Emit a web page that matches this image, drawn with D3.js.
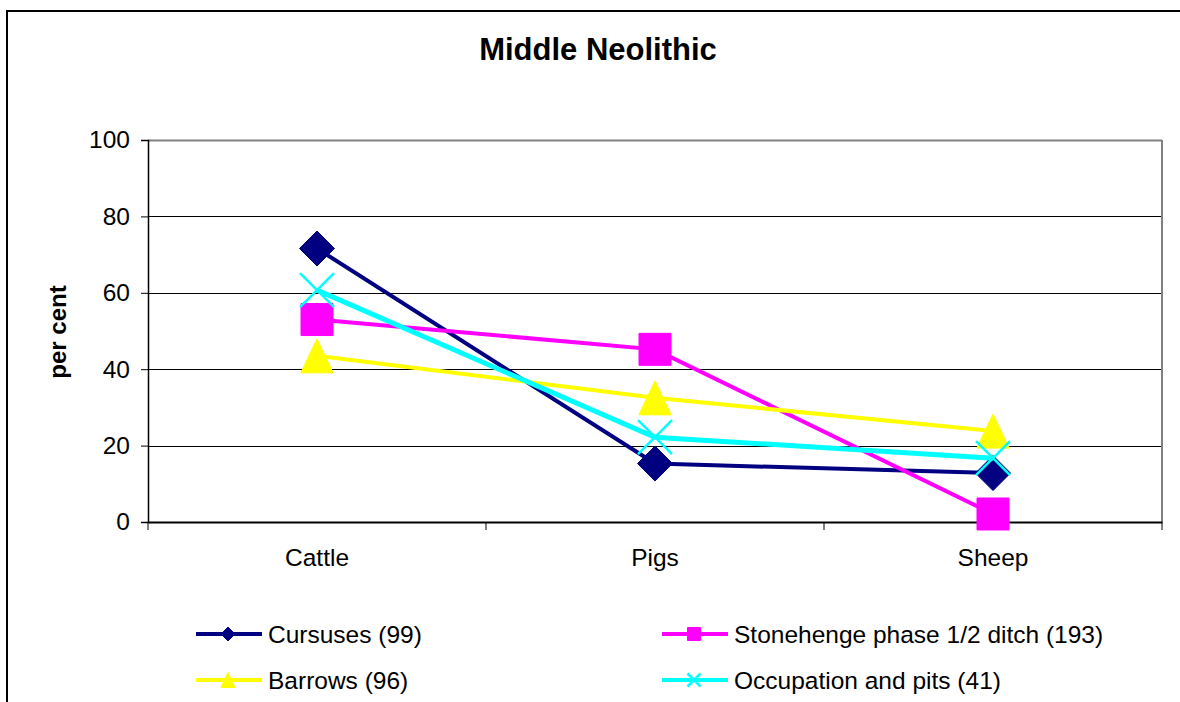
<!DOCTYPE html>
<html>
<head>
<meta charset="utf-8">
<script src="https://cdn.jsdelivr.net/npm/d3@7"></script>
<style>
    body { margin: 0; background: #fff; }
    svg { display: block; font-family: "Liberation Sans", Arial, sans-serif; }
</style>
</head>
<body>
<svg id="chart" width="1180" height="702"></svg>
<script>
// data
var categories = ["Cattle", "Pigs", "Sheep"];
var seriesNames = ["Cursuses (99)", "Stonehenge phase 1/2 ditch (193)", "Barrows (96)", "Occupation and pits (41)"];
var cursuses = [71.6, 15.3, 12.8];
var stonehenge = [53.0, 45.2, 2.1];
var barrows = [43.5, 32.5, 23.8];
var occupation = [60.7, 22.2, 16.7];
var yTicks = [0, 20, 40, 60, 80, 100];

var series = [
    { name: seriesNames[0], values: cursuses, color: "#000080", marker: "diamond", width: 4 },
    { name: seriesNames[1], values: stonehenge, color: "#ff00ff", marker: "square", width: 4 },
    { name: seriesNames[2], values: barrows, color: "#ffff00", marker: "triangle", width: 4 },
    { name: seriesNames[3], values: occupation, color: "#00ffff", marker: "cross", width: 5 }
];

var dims = {
    plot: { left: 148, right: 1162, top: 140, bottom: 522 }
};

var svg = d3.select("#chart");

// outer chart border
svg.append("rect")
    .attr("x", 7)
    .attr("y", 11)
    .attr("width", 1200)
    .attr("height", 720)
    .attr("fill", "#fff")
    .attr("stroke", "#000")
    .attr("stroke-width", 2);

var xScale = d3.scaleBand()
    .domain(categories)
    .range([dims.plot.left, dims.plot.right])
    .padding(0);

var yScale = d3.scaleLinear()
    .domain([0, 100])
    .range([dims.plot.bottom, dims.plot.top]);

//gridlines
svg.append("g")
    .selectAll("line")
    .data(yTicks.filter(t => t > 0))
    .enter()
    .append("line")
    .attr("x1", dims.plot.left)
    .attr("x2", dims.plot.right)
    .attr("y1", d => Math.round(yScale(d)) + 0.5)
    .attr("y2", d => Math.round(yScale(d)) + 0.5)
    .attr("stroke", d => d == 100 ? "#808080" : "#000")
    .attr("stroke-width", d => d == 100 ? 2 : 1);

// right border of plot area
svg.append("line")
    .attr("x1", dims.plot.right)
    .attr("x2", dims.plot.right)
    .attr("y1", dims.plot.top)
    .attr("y2", dims.plot.bottom)
    .attr("stroke", "#808080")
    .attr("stroke-width", 2);

// y axis
var yAxis = svg.append("g")
    .attr("transform", `translate(${dims.plot.left}, 0)`)
    .call(d3.axisLeft(yScale).tickValues(yTicks).tickSize(7).tickPadding(11));

yAxis.select(".domain").attr("stroke", "#000").attr("stroke-width", 1.5);
yAxis.selectAll(".tick line").attr("stroke", "#000");
yAxis.selectAll("text")
    .attr("font-size", 24.5)
    .attr("fill", "#000")
    .attr("font-family", "Liberation Sans, Arial, sans-serif");

// x axis, ticks on the band edges
var xAxis = svg.append("g")
    .attr("transform", `translate(0, ${dims.plot.bottom})`)
    .call(d3.axisBottom(xScale).tickSize(0).tickPadding(27));

xAxis.select(".domain").attr("stroke", "#000").attr("stroke-width", 2);
xAxis.selectAll("text")
    .attr("font-size", 24.5)
    .attr("fill", "#000")
    .attr("font-family", "Liberation Sans, Arial, sans-serif");

xAxis.selectAll(".edge")
    .data(categories.concat(["end"]))
    .enter()
    .append("line")
    .attr("class", "edge")
    .attr("x1", (d, i) => i < categories.length ? xScale(d) : xScale(categories[categories.length - 1]) + xScale.bandwidth())
    .attr("x2", (d, i) => i < categories.length ? xScale(d) : xScale(categories[categories.length - 1]) + xScale.bandwidth())
    .attr("y1", 0)
    .attr("y2", 8)
    .attr("stroke", "#000");

// title
svg.append("text")
    .attr("x", 598)
    .attr("y", 60)
    .attr("text-anchor", "middle")
    .attr("font-size", 31)
    .attr("font-weight", "bold")
    .text("Middle Neolithic");

// y axis title
svg.append("text")
    .attr("transform", "translate(66, 332) rotate(-90)")
    .attr("text-anchor", "middle")
    .attr("font-size", 24)
    .attr("font-weight", "bold")
    .text("per cent");

// marker shapes, s = overall size
function markerPath(type, s) {
    var h = s / 2;
    if (type == "diamond") return `M0,${-h}L${h},0L0,${h}L${-h},0Z`;
    if (type == "square") return `M${-h},${-h}H${h}V${h}H${-h}Z`;
    if (type == "triangle") return `M0,${-h}L${h * 0.95},${h}L${-h * 0.95},${h}Z`;
    return `M${-h},${-h}L${h},${h}M${h},${-h}L${-h},${h}`;
}
var markerSize = { diamond: 35, square: 32, triangle: 34, cross: 34 };

var line = d3.line()
    .x((d, i) => xScale(categories[i]) + xScale.bandwidth() / 2)
    .y(d => yScale(d));

series.forEach(s => {
    var g = svg.append("g");
    g.append("path")
        .attr("d", line(s.values))
        .attr("fill", "none")
        .attr("stroke", s.color)
        .attr("stroke-width", s.width);

    g.selectAll(".marker")
        .data(s.values)
        .enter()
        .append("path")
        .attr("class", "marker")
        .attr("transform", (d, i) => `translate(${xScale(categories[i]) + xScale.bandwidth() / 2}, ${yScale(d)})`)
        .attr("d", markerPath(s.marker, markerSize[s.marker]))
        .attr("fill", s.marker == "cross" ? "none" : s.color)
        .attr("stroke", s.color)
        .attr("stroke-width", s.marker == "cross" ? 2.5 : 1);
});

//legend
var legendPos = [
    [196, 634], [662, 634],
    [196, 680], [662, 680]
];
var legendMarker = { diamond: 14, square: 13, triangle: 15, cross: 13 };

var legend = svg.append("g")
    .selectAll("g")
    .data(series)
    .enter()
    .append("g")
    .attr("transform", (d, i) => `translate(${legendPos[i][0]}, ${legendPos[i][1]})`);

legend.append("line")
    .attr("x1", 0)
    .attr("x2", 66)
    .attr("stroke", d => d.color)
    .attr("stroke-width", 4);

legend.append("path")
    .attr("transform", "translate(32, 0)")
    .attr("d", d => markerPath(d.marker, legendMarker[d.marker]))
    .attr("fill", d => d.marker == "cross" ? "none" : d.color)
    .attr("stroke", d => d.color)
    .attr("stroke-width", d => d.marker == "cross" ? 2.5 : 1);

legend.append("text")
    .attr("x", 72)
    .attr("y", 9)
    .attr("font-size", 24.5)
    .text(d => d.name);
</script>
</body>
</html>
